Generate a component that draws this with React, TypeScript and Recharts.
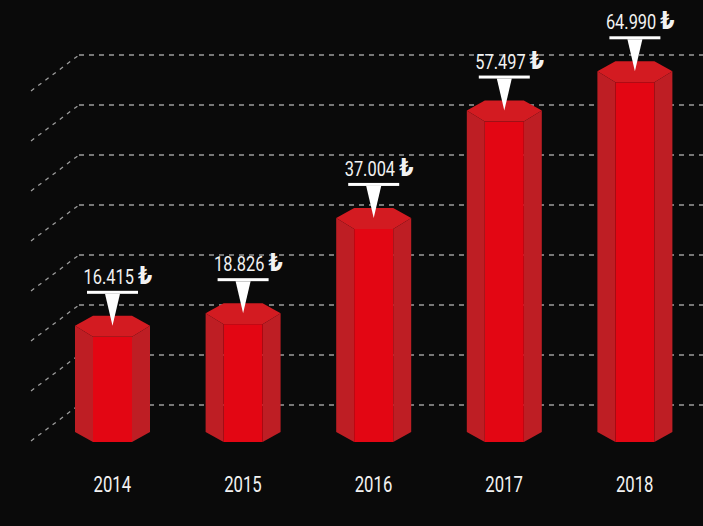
import React from "react";
import { BarChart, Bar, XAxis, YAxis, CartesianGrid } from "recharts";

const years = ["2014", "2015", "2016", "2017", "2018"];
const amounts = [16415, 18826, 37004, 57497, 64990];
const gridSteps = [0, 1, 2, 3, 4, 5, 6, 7];

const Y_MIN = -3660;
const Y_MAX = 79740;
const GRID_MIN = -0.74;
const GRID_MAX = 8;

const data = years.map((year, i) => ({ year, amount: amounts[i] }));

const FONT = 'Roboto, "Liberation Sans", sans-serif';

const formatTL = (v: number) => String(v).replace(/\B(?=(\d{3})+(?!\d))/g, ".");

function GridLine(props: any) {
  const { y1 } = props;
  // the hidden axis also hands over its two ends; keep only the real steps
  if (y1 < 30 || y1 > 420) return <g key={props.key} />;
  return (
    <g key={props.key}>
      <line x1={31} y1={y1 + 36} x2={79} y2={y1} stroke="#9c9c9c" strokeWidth={1.3} strokeDasharray="4 5" />
      <line x1={79} y1={y1} x2={703} y2={y1} stroke="#9c9c9c" strokeWidth={1.3} strokeDasharray="5 5" />
    </g>
  );
}

function HexBar(props: any) {
  const { x, y, width, height, payload } = props;
  const base = y + height;
  const s = width * 0.24;
  const cx = x + width / 2;
  const l = x + s;
  const r = x + width - s;
  const right = x + width;
  return (
    <g>
      <polygon points={`${x},${y - 11} ${l},${y} ${l},${base} ${x},${base - 10}`} fill="#be1e24" />
      <polygon points={`${right},${y - 11} ${r},${y} ${r},${base} ${right},${base - 10}`} fill="#be1e24" />
      <rect x={l} y={y} width={r - l} height={base - y} fill="#e30613" />
      <polygon
        points={`${x},${y - 11} ${l},${y - 21} ${r},${y - 21} ${right},${y - 11} ${r},${y} ${l},${y}`}
        fill="#d31b21"
      />
      <rect x={cx - 25.5} y={y - 46} width={51} height={3} fill="#ffffff" />
      <polygon points={`${cx - 7.5},${y - 43} ${cx + 7.5},${y - 43} ${cx},${y - 11}`} fill="#ffffff" />
      <g transform={`translate(${cx - 29},${y - 53}) scale(0.82,1)`}>
        <text x={0} y={0} fill="#f2f2f2" fontFamily={FONT} fontSize={20}>
          {formatTL(payload.amount)}
          <tspan dx={5} fontFamily='"DejaVu Sans", sans-serif' fontWeight="bold" fontSize={25}>
            ₺
          </tspan>
        </text>
      </g>
    </g>
  );
}

function YearTick(props: any) {
  const { x, y, payload } = props;
  return (
    <g transform={`translate(${x},${y + 50}) scale(0.76,1)`}>
      <text x={0} y={0} textAnchor="middle" fill="#f2f2f2" fontFamily={FONT} fontSize={22}>
        {payload.value}
      </text>
    </g>
  );
}

export default function App() {
  return (
    <div style={{ position: "absolute", left: 0, top: 0, width: 703, height: 526, background: "#0a0a0a" }}>
      <BarChart width={703} height={526} data={data} margin={{ top: 5, right: 3, left: 47, bottom: 0 }}>
        <CartesianGrid yAxisId="grid" vertical={false} horizontal={GridLine} />
        <XAxis
          dataKey="year"
          axisLine={false}
          tickLine={false}
          tickSize={0}
          tickMargin={0}
          height={84}
          interval={0}
          tick={YearTick}
        />
        <YAxis yAxisId="value" hide domain={[Y_MIN, Y_MAX]} allowDataOverflow />
        <YAxis yAxisId="grid" hide domain={[GRID_MIN, GRID_MAX]} ticks={gridSteps} allowDataOverflow />
        <Bar
          yAxisId="value"
          dataKey={(d: any) => [Y_MIN, d.amount]}
          barSize={75}
          shape={HexBar}
          isAnimationActive={false}
        />
      </BarChart>
    </div>
  );
}
